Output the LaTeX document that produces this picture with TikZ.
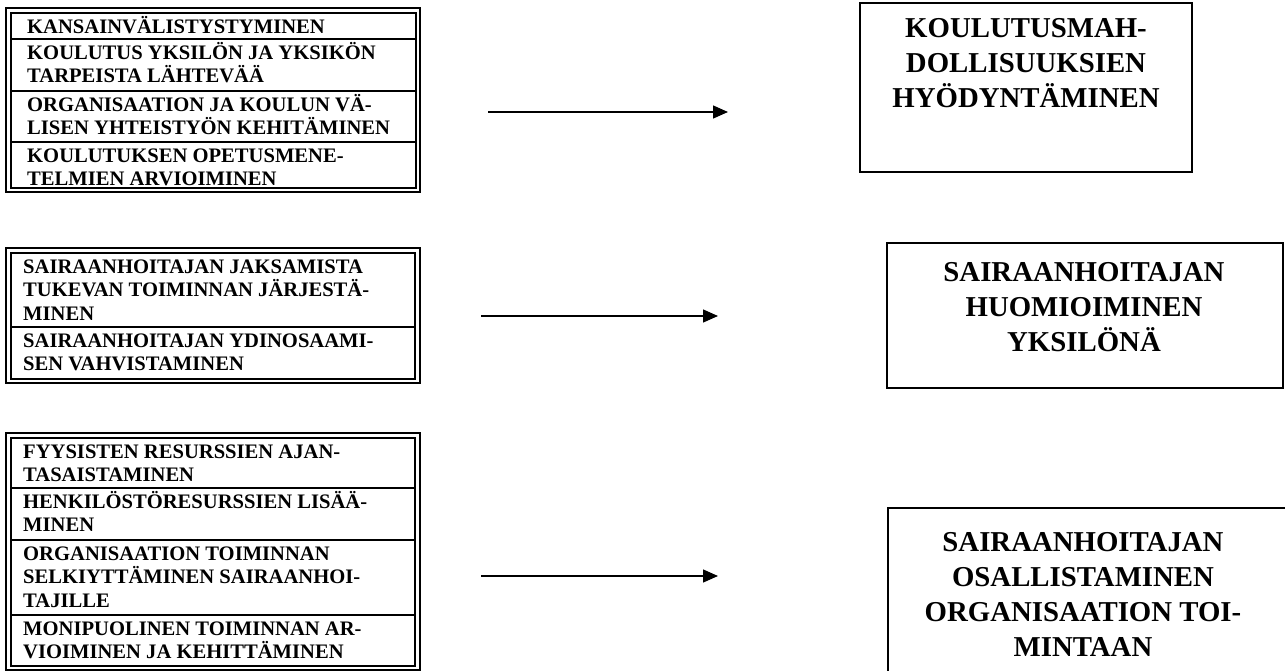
\documentclass[tikz,border=0pt]{standalone}
\usepackage{fontspec}
\setmainfont{Liberation Serif}
\usetikzlibrary{arrows.meta}
\newcommand{\lstrut}{\rule{0pt}{19.5pt}}
\newcommand{\rstrut}{\rule{0pt}{26pt}}
\begin{document}
\begin{tikzpicture}[x=1pt,y=-1pt,
  ltext/.style={anchor=north west, inner sep=0pt, align=left, font=\bfseries\fontsize{20.6}{23.7}\selectfont},
  rtext/.style={anchor=north, inner sep=0pt, align=center, font=\bfseries\fontsize{28.8}{35}\selectfont},
  outerline/.style={draw, line width=1.7pt},
  innerline/.style={draw, line width=1.2pt},
  cellline/.style={draw, line width=1.2pt},
  rframe/.style={draw, line width=1.5pt},
  conn/.style={line width=1.3pt, -{Triangle[length=15pt,width=13pt]}}
]
\fill[white] (0,0) rectangle (1285,671);
\useasboundingbox (0,0) rectangle (1285,671);

% ---- left box 1
\draw[outerline] (6,8) rectangle (420,192);
\draw[innerline] (11,13) rectangle (416,188);
\draw[cellline] (11,39) -- (416,39);
\draw[cellline] (11,91) -- (416,91);
\draw[cellline] (11,142) -- (416,142);
\node[ltext] (l1a) at (27,13.5) {\lstrut KANSAINVÄLISTYSTYMINEN};
\node[ltext] (l1b) at (27,39.5) {\lstrut KOULUTUS YKSILÖN JA YKSIKÖN\\TARPEISTA LÄHTEVÄÄ};
\node[ltext] (l1c) at (27,91.5) {\lstrut ORGANISAATION JA KOULUN VÄ-\\LISEN YHTEISTYÖN KEHITÄMINEN};
\node[ltext] (l1d) at (27,142.5) {\lstrut KOULUTUKSEN OPETUSMENE-\\TELMIEN ARVIOIMINEN};

% ---- left box 2
\draw[outerline] (6,248) rectangle (420,383);
\draw[innerline] (11,253) rectangle (415,379);
\draw[cellline] (11,327) -- (415,327);
\node[ltext] (l2a) at (23,253.5) {\lstrut SAIRAANHOITAJAN JAKSAMISTA\\TUKEVAN TOIMINNAN JÄRJESTÄ-\\MINEN};
\node[ltext] (l2b) at (23,327.5) {\lstrut SAIRAANHOITAJAN YDINOSAAMI-\\SEN VAHVISTAMINEN};

% ---- left box 3
\draw[outerline] (6,433) rectangle (420,670);
\draw[innerline] (11,438) rectangle (415,666);
\draw[cellline] (11,488) -- (415,488);
\draw[cellline] (11,540) -- (415,540);
\draw[cellline] (11,615) -- (415,615);
\node[ltext] (l3a) at (23,438.5) {\lstrut FYYSISTEN RESURSSIEN AJAN-\\TASAISTAMINEN};
\node[ltext] (l3b) at (23,488.5) {\lstrut HENKILÖSTÖRESURSSIEN LISÄÄ-\\MINEN};
\node[ltext] (l3c) at (23,540.5) {\lstrut ORGANISAATION TOIMINNAN\\SELKIYTTÄMINEN SAIRAANHOI-\\TAJILLE};
\node[ltext] (l3d) at (23,615.5) {\lstrut MONIPUOLINEN TOIMINNAN AR-\\VIOIMINEN JA KEHITTÄMINEN};

% ---- right boxes
\draw[rframe] (860,3) rectangle (1192,172);
\node[rtext] (r1) at (1026,11.5) {\rstrut KOULUTUSMAH-\\DOLLISUUKSIEN\\HYÖDYNTÄMINEN};
\draw[rframe] (887,243) rectangle (1283,388);
\node[rtext] (r2) at (1084,255.5) {\rstrut SAIRAANHOITAJAN\\HUOMIOIMINEN\\YKSILÖNÄ};
\draw[rframe] (888,508) rectangle (1295,690);
\node[rtext] (r3) at (1083,525.5) {\rstrut SAIRAANHOITAJAN\\OSALLISTAMINEN\\ORGANISAATION TOI-\\MINTAAN};

% ---- arrows
\coordinate (a1s) at (488,112);
\coordinate (a1e) at (728,112);
\coordinate (a2s) at (481,316);
\coordinate (a2e) at (718,316);
\coordinate (a3s) at (481,576);
\coordinate (a3e) at (718,576);
\draw[conn] (a1s) -- (a1e);
\draw[conn] (a2s) -- (a2e);
\draw[conn] (a3s) -- (a3e);
\end{tikzpicture}
\end{document}
